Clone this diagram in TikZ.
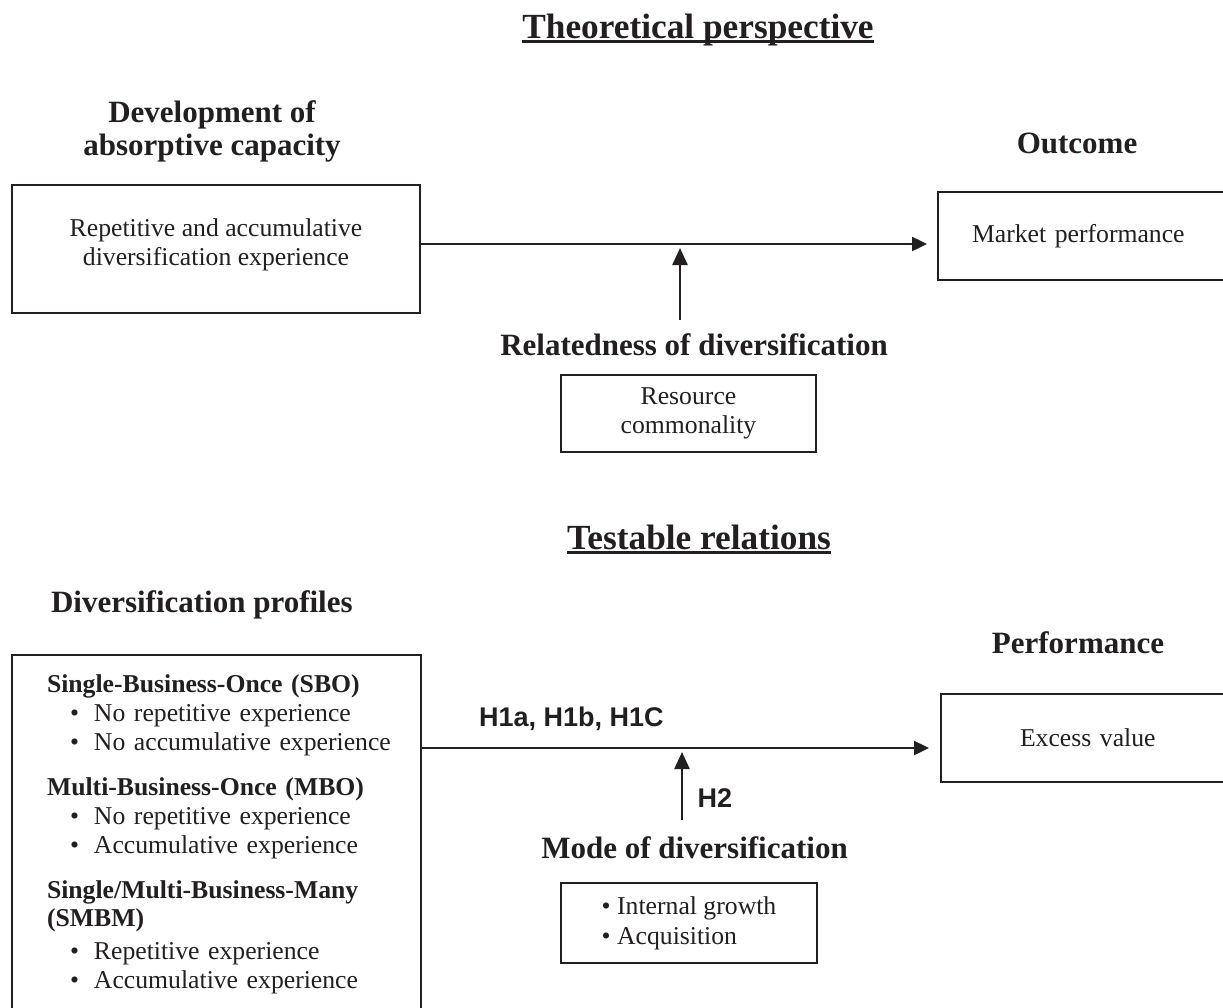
\documentclass[tikz,border=0pt]{standalone}
\usepackage{fontspec}
\setmainfont{Liberation Serif}
\newfontfamily\hlabelfont{Liberation Sans}
\usetikzlibrary{arrows.meta}
\definecolor{ink}{RGB}{35,31,32}
\newcommand\profitem[1]{\mbox{\hspace*{23pt}\makebox[24pt][l]{\textbullet}#1}}
\begin{document}
\begin{tikzpicture}[x=1pt,y=-1pt,
  every node/.style={text=ink},
  bodyfont/.style={font=\fontsize{25.7}{29}\selectfont},
  headfont/.style={font=\fontsize{31}{33}\selectfont\bfseries},
  titlefont/.style={font=\fontsize{35.3}{40}\selectfont\bfseries},
  hypfont/.style={font=\fontsize{27}{30}\selectfont\hlabelfont\bfseries},
  box/.style={draw=ink, line width=2.6pt, inner sep=0pt, outer sep=0pt, bodyfont},
  plain/.style={inner sep=0pt, outer sep=0pt},
  arr/.style={draw=ink, line width=2.4pt, -{Triangle[length=15pt,width=14pt]}},
  varr/.style={draw=ink, line width=2.4pt, -{Triangle[length=17pt,width=15pt]}},
  uline/.style={draw=ink, line width=3pt},
]
\useasboundingbox (0,0) rectangle (1223,1007);
\fill[white] (0,0) rectangle (1223,1007);
\clip (0,0) rectangle (1223,1007);

% ---------- Theoretical perspective ----------
\node[plain, titlefont, anchor=base] (t1) at (698,38) {Theoretical perspective};
\draw[uline] ([yshift=-3.5pt]t1.base west) -- ([yshift=-3.5pt]t1.base east);

\node[plain, headfont, align=center] (dhead) at (212,131.4) {Development of\\absorptive capacity};
\node[plain, headfont, anchor=base] (ohead) at (1077,153) {Outcome};

\node[box, minimum width=408pt, minimum height=128pt, align=center] (tbox) at (216,249)
  {Repetitive and accumulative\\diversification experience\rule[-13.6pt]{0pt}{1pt}};
\node[box, anchor=west, minimum height=88pt, inner xsep=34pt, text width=300pt, align=left] (mbox) at (938,236)
  {Market performance};

\coordinate (j1) at (680,244);
\draw[arr, shorten >=11pt] (tbox.east |- j1) -- (mbox.west |- j1);

\node[plain, headfont, anchor=base] (rhead) at (694,355) {Relatedness of diversification};
\draw[varr, shorten <=13pt, shorten >=4pt] (j1 |- rhead.north) -- (j1);

\node[box, minimum width=255pt, minimum height=77pt, align=center] (rbox) at (688.5,413.5)
  {Resource\\commonality};

% ---------- Testable relations ----------
\node[plain, titlefont, anchor=base] (t2) at (699,549) {Testable relations};
\draw[uline] ([yshift=-3.5pt]t2.base west) -- ([yshift=-3.5pt]t2.base east);

\node[plain, headfont, anchor=base west] (dphead) at (51,612) {Diversification profiles};
\node[plain, headfont, anchor=base] (phead) at (1078,653) {Performance};

\node[box, anchor=north west, inner xsep=35pt, inner ysep=20pt, text width=339pt, align=left] (lbox) at (12,655) {%
\textbf{Single-Business-Once (SBO)}\\
\profitem{No repetitive experience}\\
\profitem{No accumulative experience}\\[16pt]
\textbf{Multi-Business-Once (MBO)}\\
\profitem{No repetitive experience}\\
\profitem{Accumulative experience}\\[16pt]
\textbf{Single/Multi-Business-Many}\\[-1pt]
\textbf{(SMBM)}\\[4pt]
\profitem{Repetitive experience}\\
\profitem{Accumulative experience}};

\node[box, anchor=west, minimum height=88pt, inner xsep=79pt, text width=250pt, align=left] (ebox) at (941,738)
  {Excess value};

\coordinate (j2) at (682,748);
\draw[arr, shorten >=12pt] (lbox.east |- j2) -- (ebox.west |- j2);
\node[plain, hypfont, anchor=base west] (h1) at (479,726.5) {H1a, H1b, H1C};

\node[plain, headfont, anchor=base] (mhead) at (694.5,858.6) {Mode of diversification};
\draw[varr, shorten <=16.6pt, shorten >=4pt] (j2 |- mhead.north) -- (j2);
\node[plain, hypfont, anchor=base west] (h2) at (697.6,807) {H2};

\node[box, minimum width=256pt, minimum height=80pt, align=left] (mobox) at (689,923)
  {\textbullet\ Internal growth\\[1pt]\textbullet\ Acquisition};
\end{tikzpicture}
\end{document}
